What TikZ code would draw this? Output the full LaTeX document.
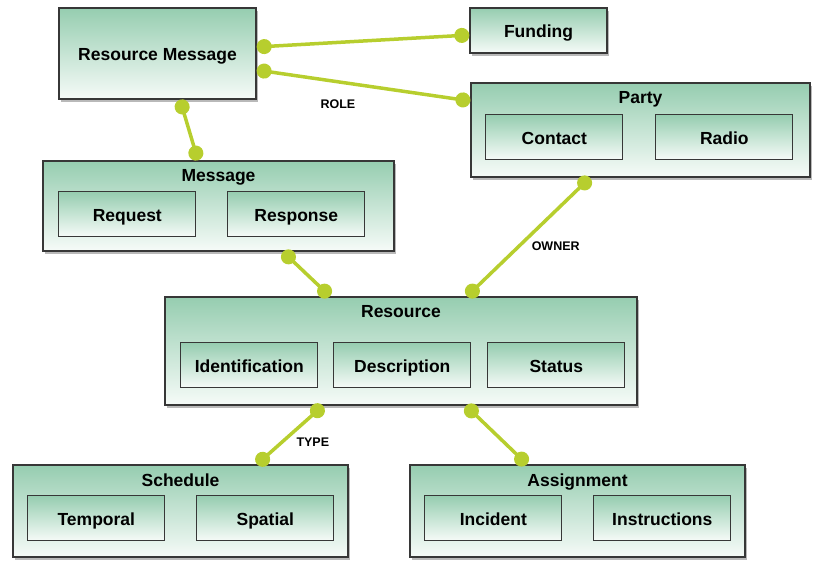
\documentclass[tikz,border=0pt]{standalone}
\usepackage{fontspec}
\setmainfont{Liberation Sans}
\usepackage{tikz}
\usetikzlibrary{arrows.meta, positioning, shadows}
\definecolor{boxtop}{RGB}{150,205,176}
\definecolor{boxbottom}{RGB}{246,251,248}
\definecolor{boxline}{RGB}{55,55,55}
\definecolor{linkgreen}{RGB}{183,206,46}
\tikzset{
    box/.style={rectangle, draw=boxline, line width=1.4pt, top color=boxtop, bottom color=boxbottom, drop shadow={shadow xshift=1.5pt, shadow yshift=-3pt, opacity=0.55}, font=\fontsize{17.5}{20}\selectfont\bfseries, text height=16pt, text depth=1.8pt},
    part/.style={rectangle, draw=boxline, line width=1pt, top color=boxtop, bottom color=boxbottom, minimum width=137pt, minimum height=45pt, font=\fontsize{17.5}{20}\selectfont\bfseries, text height=16pt, text depth=1.8pt},
    boxtitle/.style={anchor=north, yshift=-5.5pt, font=\fontsize{17.5}{20}\selectfont\bfseries},
    link/.style={line width=3.5pt, draw=linkgreen, {Circle[length=15pt]}-{Circle[length=15pt]}},
    tag/.style={font=\fontsize{12.5}{14}\selectfont\bfseries}
}

\begin{document}
\begin{tikzpicture}[x=1pt, y=-1pt]
\useasboundingbox (0,0) rectangle (813,560);

% Top boxes
\node[box, minimum width=197pt, minimum height=91pt] (rmsg) at (157.5,53.5) {Resource Message};
\node[box, minimum width=137pt, minimum height=45pt] (fund) at (538.5,30.5) {Funding};
\node[box, minimum width=339pt, minimum height=94pt, label={[boxtitle]north:Party}] (party) at (640.5,130) {};
\node[part] (contact) [below right=32pt and 15pt of party.north west] {Contact};
\node[part] (radio) [right=32pt of contact] {Radio};

% Message
\node[box, minimum width=351pt, minimum height=90pt, label={[boxtitle]north:Message}] (msg) at (218.5,206) {};
\node[part] (request) [below right=31pt and 16pt of msg.north west] {Request};
\node[part] (response) [right=31pt of request] {Response};

% Resource
\node[box, minimum width=472pt, minimum height=108pt, label={[boxtitle]north:Resource}] (res) at (401,351) {};
\node[part] (ident) [below right=46pt and 16pt of res.north west] {Identification};
\node[part] (descr) [right=15pt of ident] {Description};
\node[part] (status) [right=16pt of descr] {Status};

% Bottom boxes
\node[box, minimum width=335pt, minimum height=92pt, label={[boxtitle]north:Schedule}] (sched) at (180.5,511) {};
\node[part] (temporal) [below right=31pt and 15pt of sched.north west] {Temporal};
\node[part] (spatial) [right=31pt of temporal] {Spatial};

\node[box, minimum width=335pt, minimum height=92pt, label={[boxtitle]north:Assignment}] (assign) at (577.5,511) {};
\node[part] (incident) [below right=31pt and 15pt of assign.north west] {Incident};
\node[part] (instr) [right=31pt of incident] {Instructions};

% Links
\draw[link] ([yshift=6.5pt]rmsg.east) -- ([yshift=-4.5pt]fund.west);
\draw[link] ([yshift=-16.5pt]rmsg.east) -- node[tag, pos=0.38, below=13pt] {ROLE} ([yshift=29pt]party.west);
\draw[link] ([xshift=22.5pt]rmsg.south) -- ([xshift=-20.5pt]msg.north);
\draw[link] ([xshift=64.5pt]msg.south) -- ([xshift=-71pt]res.north);
\draw[link] ([xshift=-50.5pt]party.south) -- node[tag, pos=0.58, right=8pt] {OWNER} ([xshift=66pt]res.north);
\draw[link] ([xshift=-78pt]res.south) -- node[tag, pos=0.63, right=10pt] {TYPE} ([xshift=76.5pt]sched.north);
\draw[link] ([xshift=65pt]res.south) -- ([xshift=-50.5pt]assign.north);

\end{tikzpicture}
\end{document}
